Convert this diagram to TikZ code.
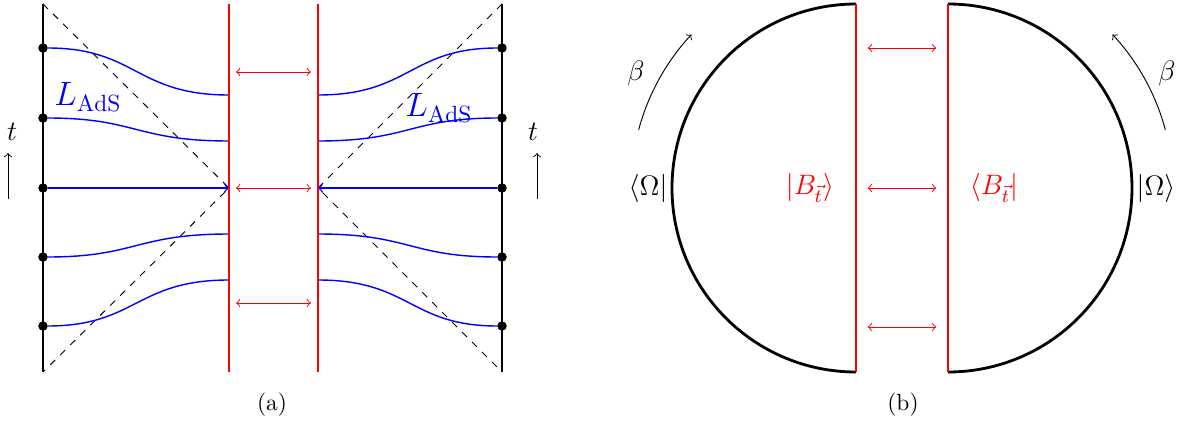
\documentclass[tikz,border=0pt]{standalone}
\usepackage{amsmath,amssymb}
\tikzset{
  vertex/.style={
    inner sep = 0pt,
    shape = circle,
    minimum size = 3.6pt,
    draw,
    fill
  },
  geodesic/.style={
    blue,
    semithick
  },
  screen/.style={
    red,
    semithick
  },
  swap/.style={
    red,
    <->,
    shorten <=3pt,
    shorten >=3pt
  },
  disk/.style={
    very thick
  }
}
\begin{document}
\begin{tikzpicture}[x=0.015cm,y=-0.015cm]
            \useasboundingbox (0,0) rectangle (1183,421);
            % (a) boundaries and screens
            \coordinate (lt) at (43,4);   \coordinate (lb) at (43,372);
            \coordinate (rt) at (502,4);  \coordinate (rb) at (502,372);
            \coordinate (scl) at (229,4);  \coordinate (scL) at (229,372);
            \coordinate (scr) at (318,4);  \coordinate (scR) at (318,372);
            \coordinate (ml) at (229,188); \coordinate (mr) at (318,188);
            \draw[semithick] (lt) -- (lb);
            \draw[semithick] (rt) -- (rb);
            \draw[dashed] (lt) -- (ml) -- (lb);
            \draw[dashed] (rt) -- (mr) -- (rb);
            \foreach \y/\z [count=\i] in {48/95,118/141,257/234,326/280}{
                    \node[vertex] (l\i) at (43,\y) {};
                    \node[vertex] (r\i) at (502,\y) {};
                    \coordinate (el\i) at (229,\z);
                    \coordinate (er\i) at (318,\z);
                    \draw[geodesic] (l\i) .. controls (136,\y) and (136,\z) .. (el\i);
                    \draw[geodesic] (r\i) .. controls (410,\y) and (410,\z) .. (er\i);
                }
            \node[vertex] (l0) at (43,188) {};
            \node[vertex] (r0) at (502,188) {};
            \draw[geodesic,->] (l0) -- (ml);
            \draw[geodesic,->] (r0) -- (mr);
            \draw[screen] (scl) -- (scL);
            \draw[screen] (scr) -- (scR);
            \foreach \y in {72,188,303}{
                    \draw[swap] (229,\y) -- (318,\y);
                }
            \node[blue,font=\Large] (lads) at (88,97) {$L_{\mathrm{AdS}}$};
            \node[blue,font=\Large] (rads) at (439,108) {$L_{\mathrm{AdS}}$};
            \node[font=\large] (tl) at (12,132) {$t$};
            \node[font=\large] (tr) at (533,132) {$t$};
            \coordinate (tl0) at (8,199); \coordinate (tl1) at (8,153);
            \coordinate (tr0) at (537,199); \coordinate (tr1) at (537,153);
            \draw[->] (tl0) -- (tl1);
            \draw[->] (tr0) -- (tr1);
            \node (capa) at (272,405) {(a)};
            % (b) two half disks
            \coordinate (bt) at (856,4);  \coordinate (bb) at (856,372);
            \coordinate (kt) at (948,4);  \coordinate (kb) at (948,372);
            \coordinate (ol) at (856,188); \coordinate (or) at (948,188);
            \draw[disk] (bt) arc[start angle=-90, end angle=-270, radius=184];
            \draw[disk] (kt) arc[start angle=-90, end angle=90, radius=184];
            \draw[disk,red] (bt) -- (bb);
            \draw[disk,red] (kt) -- (kb);
            \foreach \y in {48,188,327}{
                    \draw[swap,shorten <=5pt,shorten >=5pt] (856,\y) -- (948,\y);
                }
            \draw[->] (ol) ++(-165:225) arc[start angle=-165, end angle=-137, radius=225];
            \draw[->] (or) ++(-15:225) arc[start angle=-15, end angle=-43, radius=225];
            \node[font=\large] (betal) at (636,73) {$\beta$};
            \node[font=\large] (betar) at (1167,73) {$\beta$};
            \node[font=\large] (bra) at (648,188) {$\langle\Omega\rvert$};
            \node[font=\large] (ket) at (1156,188) {$\lvert\Omega\rangle$};
            \node[red,font=\large] (bket) at (810,188) {$\lvert B_{\vec{t}}\rangle$};
            \node[red,font=\large] (bbra) at (994,188) {$\langle B_{\vec{t}}\rvert$};
            \node (capb) at (903,405) {(b)};
        \end{tikzpicture}
\end{document}
